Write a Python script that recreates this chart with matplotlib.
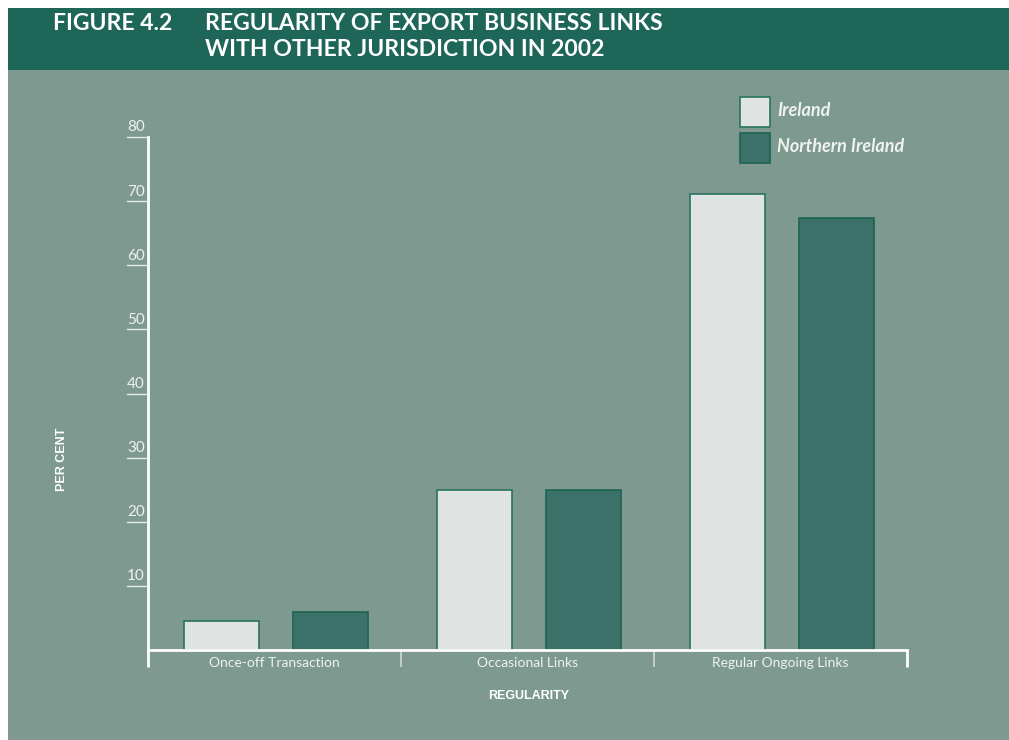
import matplotlib.pyplot as plt
import numpy as np
from matplotlib.patches import Rectangle

# data
categories = ['Once-off Transaction', 'Occasional Links', 'Regular Ongoing Links']
ireland = [4.5, 24.9, 71.1]
northern_ireland = [5.9, 24.9, 67.4]
series_names = ['Ireland', 'Northern Ireland']
yticks = [10, 20, 30, 40, 50, 60, 70, 80]

# colours
band = '#1e6658'
bg = '#7d9990'
light = '#dfe4e2'
dark = '#3b7168'
txt = '#eef2f0'

W, H = 1009, 740
fig = plt.figure(figsize=(W / 100, H / 100), dpi=100, facecolor='white')

# background panels (behind the axes)
fig.patches.append(Rectangle((8 / W, 0), 1, 670 / H, transform=fig.transFigure,
                             facecolor=bg, edgecolor='none', zorder=-10))
fig.patches.append(Rectangle((8 / W, 670 / H), 1, 62 / H, transform=fig.transFigure,
                             facecolor=band, edgecolor='none', zorder=-10))

# title
tfont = dict(family='Lato', weight='bold', size=16.6, color='white', va='center')
fig.text(53 / W, 1 - 24 / H, 'FIGURE 4.2', **tfont)
fig.text(205 / W, 1 - 24 / H, 'REGULARITY OF EXPORT BUSINESS LINKS', **tfont)
fig.text(205 / W, 1 - 50 / H, 'WITH OTHER JURISDICTION IN 2002', **tfont)

ax = fig.add_axes([148 / W, 90 / H, 759 / W, 513 / H])
ax.set_facecolor('none')
ax.set_xlim(-0.5, 2.5)
ax.set_ylim(0, 80)

x = np.arange(len(categories))
ax.bar(x - 0.209, ireland, 0.295, color=light, edgecolor='#2a7262', linewidth=1.2, zorder=2)
ax.bar(x + 0.221, northern_ireland, 0.295, color=dark, edgecolor='#1d6453', linewidth=1.2, zorder=2)

for s in ['top', 'right']:
    ax.spines[s].set_visible(False)
for s in ['left', 'bottom']:
    ax.spines[s].set_color('white')
    ax.spines[s].set_linewidth(2)
    ax.spines[s].set_zorder(3)
ax.set_xticks([])
ax.set_yticks([])

# y ticks: underline style to the left of the axis
ytr = ax.get_yaxis_transform()
for v in yticks:
    ax.plot([-21 / 759, -2 / 759], [v, v], transform=ytr, color='#e6ecea',
            linewidth=1, clip_on=False)
    ax.text(-21 / 759, v + 0.4, str(v), transform=ytr, ha='left', va='bottom',
            family='Lato', size=11, color=txt)

# category separators and labels
xtr = ax.get_xaxis_transform()
for i, b in enumerate([-0.5, 0.5, 1.5, 2.5]):
    col = 'white' if i in (0, 3) else '#c9d3cf'
    lw = 2 if i in (0, 3) else 1.3
    ax.plot([b, b], [0, -17 / 513], transform=xtr, color=col, linewidth=lw,
            clip_on=False, solid_capstyle='butt')
for i, c in enumerate(categories):
    ax.text(i, -13 / 513, c, transform=xtr, ha='center', va='center',
            family='Lato', size=10, color=txt)

# axis titles
fig.text(62 / W, 1 - 459 / H, 'PER CENT', rotation=90, ha='center', va='center',
         family='Liberation Sans', weight='bold', size=9, color='white')
fig.text(529 / W, 1 - 696 / H, 'REGULARITY', ha='center', va='center',
         family='Liberation Sans', weight='bold', size=9, color='white')

# legend
for j, (name, col, ec) in enumerate(zip(series_names, [light, dark], ['#2a7262', '#1d6453'])):
    top = 97 + j * 36
    fig.patches.append(Rectangle((740 / W, 1 - (top + 30) / H), 30 / W, 30 / H,
                                 transform=fig.transFigure, facecolor=col,
                                 edgecolor=ec, linewidth=1.2, zorder=3))
    fig.text(777 / W, 1 - (top + 13) / H, name, ha='left', va='center',
             family='Lato', weight='bold', style='italic', size=13, color=txt)

fig.savefig('out.png', dpi=100, facecolor=fig.get_facecolor())
